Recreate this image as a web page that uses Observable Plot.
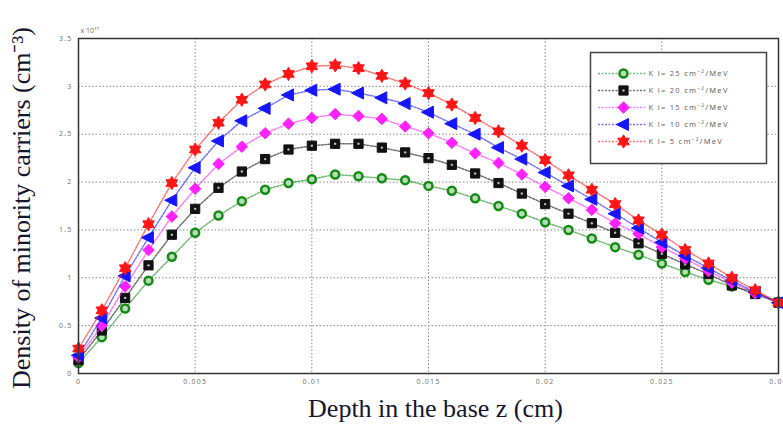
<!DOCTYPE html>
<html><head><meta charset="utf-8">
<script src="https://cdn.jsdelivr.net/npm/d3@7"></script>
<script src="https://cdn.jsdelivr.net/npm/@observablehq/plot@0.6"></script>
<style>
body{margin:0;background:#fff}
#wrap{position:relative;width:783px;height:425px;background:#fff}
#legend{position:absolute;left:590px;top:52px}
#legend text{letter-spacing:1.3px}
#main [aria-label="x-axis tick label"] text, #main [aria-label="y-axis tick label"] text{letter-spacing:1.2px}
</style>
</head><body><div id="wrap"><div id="main"></div><div id="legend"></div></div>
<script>
const depth = [0,0.001,0.002,0.003,0.004,0.005,0.006,0.007,0.008,0.009,0.010,0.011,0.012,0.013,0.014,0.015,0.016,0.017,0.018,0.019,0.020,0.021,0.022,0.023,0.024,0.025,0.026,0.027,0.028,0.029,0.030];
const k25 = [0.11,0.38,0.68,0.97,1.22,1.47,1.65,1.80,1.92,1.99,2.03,2.08,2.06,2.04,2.02,1.96,1.91,1.83,1.75,1.67,1.58,1.50,1.41,1.32,1.24,1.15,1.06,0.98,0.91,0.85,0.75];
const k20 = [0.14,0.45,0.79,1.13,1.45,1.72,1.94,2.11,2.24,2.34,2.38,2.40,2.40,2.36,2.31,2.25,2.18,2.09,1.99,1.88,1.77,1.67,1.57,1.47,1.36,1.25,1.14,1.04,0.92,0.83,0.74];
const k15 = [0.17,0.50,0.91,1.29,1.64,1.93,2.19,2.37,2.51,2.61,2.67,2.71,2.69,2.66,2.58,2.51,2.41,2.30,2.20,2.08,1.95,1.83,1.71,1.57,1.46,1.32,1.20,1.07,0.95,0.84,0.74];
const k10 = [0.19,0.58,1.02,1.42,1.81,2.15,2.43,2.64,2.77,2.91,2.96,2.97,2.93,2.88,2.82,2.73,2.61,2.50,2.36,2.24,2.10,1.96,1.82,1.67,1.52,1.37,1.23,1.10,0.97,0.85,0.74];
const k5  = [0.26,0.66,1.10,1.56,1.99,2.34,2.62,2.86,3.02,3.13,3.21,3.22,3.19,3.11,3.03,2.93,2.81,2.67,2.53,2.38,2.23,2.07,1.92,1.77,1.60,1.45,1.29,1.15,1.00,0.87,0.74];
const seriesLabels = ["K l= 25 cm⁻²/MeV","K l= 20 cm⁻²/MeV","K l= 15 cm⁻²/MeV","K l= 10 cm⁻²/MeV","K l= 5 cm⁻²/MeV"];
const xTicks = [0,0.005,0.01,0.015,0.02,0.025,0.03];
const yTicks = [0,0.5,1,1.5,2,2.5,3,3.5];
const xLabel = "Depth in the base z (cm)";
const yLabel = "Density of minority carriers (cm⁻³)";
const expLabel = "x 10¹⁷";

const hexagram = {draw(ctx, size){
  const R = Math.sqrt(size)*0.75, r0 = R/Math.sqrt(3);
  for (let i=0;i<12;i++){
    const a = Math.PI/6*i - Math.PI/2, rr = i%2 ? r0 : R;
    const x = rr*Math.cos(a), y = rr*Math.sin(a);
    i ? ctx.lineTo(x,y) : ctx.moveTo(x,y);
  }
  ctx.closePath();
}};
const triLeft = {draw(ctx, size){
  const s = Math.sqrt(size)*0.8;
  ctx.moveTo(-s,0); ctx.lineTo(s*0.7,-s*0.85); ctx.lineTo(s*0.7,s*0.85); ctx.closePath();
}};

const series = [
  {label: seriesLabels[0], values: k25, color:"#148c14", symbol:"circle", fill:"#b8dcb8", stroke:"#148c14", sw:2.5, r:4},
  {label: seriesLabels[1], values: k20, color:"#111111", symbol:"square", fill:"#111", stroke:"#111", sw:1, r:5.2},
  {label: seriesLabels[2], values: k15, color:"#ff22ff", symbol:"diamond2", fill:"#ff22ff", stroke:"#ff22ff", sw:1, r:5.2},
  {label: seriesLabels[3], values: k10, color:"#1515ff", symbol:triLeft, fill:"#1515ff", stroke:"#1515ff", sw:1, r:5},
  {label: seriesLabels[4], values: k5,  color:"#ff1515", symbol:hexagram, fill:"#ff1515", stroke:"#ff1515", sw:1, r:5}
];
series.forEach(s => s.rows = s.values.map((v,i)=>({z: depth[i], n: v, label: s.label})));

const serif = "Liberation Serif, Times New Roman, serif";
const marks = [
  Plot.gridX(xTicks, {stroke:"#888", strokeOpacity:1, strokeDasharray:"1.5,2"}),
  Plot.gridY(yTicks, {stroke:"#888", strokeOpacity:1, strokeDasharray:"1.5,2"}),
  Plot.axisX(xTicks, {tickSize:0, tickPadding:6, fontSize:7, fill:"#777", tickFormat: d => String(d), label:null}),
  Plot.axisY(yTicks, {tickSize:0, tickPadding:6, fontSize:7, fill:"#777", tickFormat: d => String(d), label:null}),
];
for (const s of series) {
  marks.push(Plot.line(s.rows, {x:"z", y:"n", stroke:s.color, strokeWidth:1.5, strokeDasharray:"2,1.5", strokeOpacity:0.6}));
  marks.push(Plot.dot(s.rows, {x:"z", y:"n", symbol:s.symbol, r:s.r, fill:s.fill, stroke:s.stroke, strokeWidth:s.sw}));
  if (s.symbol === "square") marks.push(Plot.dot(s.rows, {x:"z", y:"n", r:1.2, fill:"#bbb"}));
}
marks.push(
  Plot.frame({stroke:"#333", strokeWidth:1.5}),
  Plot.text([expLabel], {frameAnchor:"top-left", dx:2, dy:-10, textAnchor:"start", fontSize:7, fill:"#777"}),
  Plot.text([yLabel], {frameAnchor:"left", dx:-57, dy:2, rotate:-90, textAnchor:"middle", lineAnchor:"middle", fontSize:26, fontFamily:serif, fill:"#151530"}),
  Plot.text([xLabel], {frameAnchor:"bottom", dx:7, dy:35, textAnchor:"middle", lineAnchor:"middle", fontSize:26, fontFamily:serif, fill:"#151530"})
);

const chart = Plot.plot({
  width:783, height:425,
  marginLeft:78, marginRight:5, marginTop:38, marginBottom:52,
  x:{domain:[0,0.03]}, y:{domain:[0,3.5]},
  style:{background:"#fff", overflow:"visible"},
  marks
});
document.getElementById("main").appendChild(chart);

// legend
const lmarks = [Plot.frame({stroke:"#444", strokeWidth:1.5, fill:"#fff"})];
for (const s of series) {
  const d = [{label:s.label}];
  lmarks.push(Plot.ruleY(d, {y:"label", x1:8, x2:56, stroke:s.color, strokeWidth:1.5, strokeDasharray:"2,1.5", strokeOpacity:0.6}));
  lmarks.push(Plot.dot(d, {y:"label", x:33, symbol:s.symbol, r:s.r, fill:s.fill, stroke:s.stroke, strokeWidth:s.sw}));
  if (s.symbol === "square") lmarks.push(Plot.dot(d, {y:"label", x:33, r:1.2, fill:"#bbb"}));
  lmarks.push(Plot.text(d, {y:"label", x:58, text:"label", textAnchor:"start", fontSize:7.5, fill:"#666"}));
}
const legend = Plot.plot({
  width:176, height:111, margin:0,
  x:{domain:[0,176], range:[0,176], axis:null},
  y:{type:"point", domain:seriesLabels, range:[12,97], axis:null},
  style:{background:"transparent", overflow:"visible"},
  marks: lmarks
});
document.getElementById("legend").appendChild(legend);
</script>
</body></html>
